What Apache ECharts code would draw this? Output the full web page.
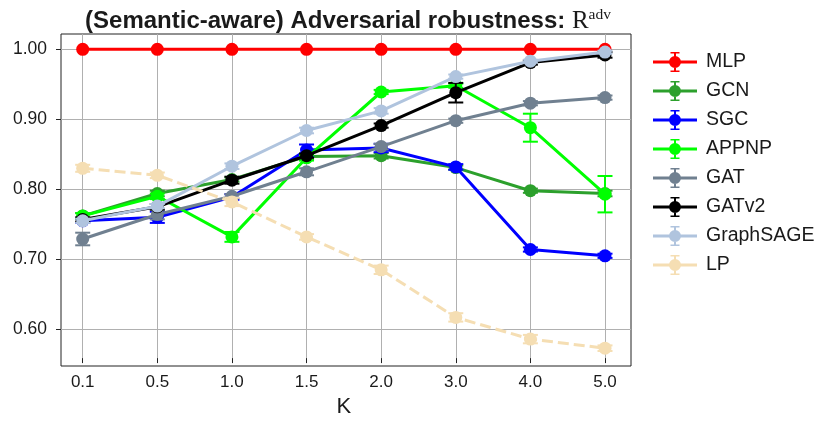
<!DOCTYPE html>
<html>
<head>
<meta charset="utf-8">
<script src="https://cdn.jsdelivr.net/npm/echarts@6/dist/echarts.min.js"></script>
<style>html,body{margin:0;padding:0;background:#fff;}#c{width:820px;height:423px;}</style>
</head>
<body>
<div id="c"></div>
<script>
// ---- data ----
const categories = ['0.1', '0.5', '1.0', '1.5', '2.0', '3.0', '4.0', '5.0'];
const seriesNames = ['MLP', 'GCN', 'SGC', 'APPNP', 'GAT', 'GATv2', 'GraphSAGE', 'LP'];
const MLP       = [1.000, 1.000, 1.000, 1.000, 1.000, 1.000, 1.000, 1.000];
const GCN       = [0.762, 0.794, 0.814, 0.847, 0.848, 0.831, 0.798, 0.794];
const SGC       = [0.755, 0.760, 0.789, 0.856, 0.859, 0.832, 0.714, 0.705];
const APPNP     = [0.762, 0.790, 0.732, 0.845, 0.939, 0.948, 0.888, 0.793];
const GAT       = [0.729, 0.764, 0.790, 0.825, 0.861, 0.898, 0.923, 0.931];
const GATv2     = [0.757, 0.775, 0.813, 0.848, 0.891, 0.938, 0.981, 0.992];
const GraphSAGE = [0.755, 0.776, 0.833, 0.884, 0.912, 0.961, 0.983, 0.996];
const LP        = [0.830, 0.820, 0.782, 0.732, 0.685, 0.617, 0.586, 0.573];
// standard errors (error bar half-lengths)
const MLP_err       = [0, 0, 0, 0, 0, 0, 0, 0];
const GCN_err       = [0.004, 0.004, 0.003, 0.004, 0.004, 0.003, 0.003, 0.004];
const SGC_err       = [0.003, 0.008, 0.004, 0.008, 0.006, 0.004, 0.003, 0.003];
const APPNP_err     = [0.004, 0.004, 0.007, 0.004, 0.003, 0.003, 0.020, 0.026];
const GAT_err       = [0.009, 0.007, 0.003, 0.005, 0.004, 0.003, 0.003, 0.003];
const GATv2_err     = [0.003, 0.004, 0.005, 0.003, 0.003, 0.014, 0.003, 0.004];
const GraphSAGE_err = [0.003, 0.003, 0.004, 0.004, 0.004, 0.003, 0.002, 0.002];
const LP_err        = [0.005, 0.004, 0.006, 0.004, 0.006, 0.006, 0.006, 0.004];
const yTicks = [0.6, 0.7, 0.8, 0.9, 1.0];

const values = [MLP, GCN, SGC, APPNP, GAT, GATv2, GraphSAGE, LP];
const errors = [MLP_err, GCN_err, SGC_err, APPNP_err, GAT_err, GATv2_err, GraphSAGE_err, LP_err];

// ---- styles / layout ----
const colors = ['#ff0000', '#2ca02c', '#0000ff', '#00ff00', '#708090', '#000000', '#b0c4de', '#f5deb3'];
const FONT = 'Liberation Sans, Arial, Helvetica, sans-serif';
const SERIF = 'Liberation Serif, DejaVu Serif, serif';
const TXT = '#1a1a1a';
// pixel layout of the plotting frame
const PL = 61, PR = 631, PT = 34, PB = 366;
const X0 = 82.7, X7 = 605;           // pixel of first / last category
const Y1 = 49.3, Y06 = 329.3;        // pixel of 1.0 / 0.6

const chart = echarts.init(document.getElementById('c'), null, {renderer: 'canvas'});

const iconPath = 'path://M0,8.5L44,8.5L44,11.5L0,11.5Z' +
  'M16,10A6,6 0 1,1 28,10A6,6 0 1,1 16,10Z' +
  'M21,0L23,0L23,20L21,20Z' +
  'M17.5,0L26.5,0L26.5,1.6L17.5,1.6Z' +
  'M17.5,18.4L26.5,18.4L26.5,20L17.5,20Z';

const yMin = yTicks[0], yMax = yTicks[yTicks.length - 1];

const series = [];
seriesNames.forEach((name, i) => {
  const col = colors[i];
  const isLP = name === 'LP';
  series.push({
    name: name + ' err',
    type: 'custom',
    xAxisIndex: 3, yAxisIndex: 3,
    z: 10 + i * 2,
    silent: true,
    clip: false,
    data: values[i].map((v, k) => [k, v, errors[i][k]]),
    renderItem: function (params, api) {
      const x = api.value(0), y = api.value(1), e = api.value(2);
      if (!e) return null;
      const t = api.coord([x, y + e]);
      const b = api.coord([x, y - e]);
      const cw = 7.5;
      const st = {stroke: col, lineWidth: 2};
      return {type: 'group', children: [
        {type: 'line', shape: {x1: t[0], y1: t[1], x2: b[0], y2: b[1]}, style: st},
        {type: 'line', shape: {x1: t[0] - cw, y1: t[1], x2: t[0] + cw, y2: t[1]}, style: st},
        {type: 'line', shape: {x1: b[0] - cw, y1: b[1], x2: b[0] + cw, y2: b[1]}, style: st}
      ]};
    }
  });
  series.push({
    name: name,
    type: 'line',
    xAxisIndex: 3, yAxisIndex: 3,
    z: 11 + i * 2,
    clip: false,
    color: col,
    data: values[i].map((v, k) => [k, v]),
    symbol: 'circle',
    symbolSize: 13,
    showSymbol: true,
    animation: false,
    lineStyle: {color: col, width: 3, type: isLP ? [11, 5] : 'solid'},
    itemStyle: {color: col, borderWidth: 0},
    emphasis: {disabled: true}
  });
});

const option = {
  animation: false,
  backgroundColor: '#fff',
  title: {
    left: 348, top: 6, textAlign: 'center', padding: 0,
    text: '{a|(Semantic-aware) Adversarial robustness: }{r|R}{s|adv}',
    textStyle: {
      rich: {
        a: {fontFamily: FONT, fontWeight: 'bold', fontSize: 24, color: TXT, lineHeight: 30},
        r: {fontFamily: SERIF, fontWeight: 'normal', fontSize: 25, color: TXT, lineHeight: 30},
        s: {fontFamily: SERIF, fontWeight: 'normal', fontSize: 15.5, color: TXT, lineHeight: 30, padding: [0, 0, 12, 0]}
      }
    }
  },
  legend: {
    orient: 'vertical',
    left: 648, top: 47,
    itemWidth: 44, itemHeight: 20, itemGap: 9,
    data: seriesNames.map(n => ({name: n, icon: iconPath})),
    textStyle: {fontFamily: FONT, fontSize: 19.5, color: TXT, padding: [0, 0, 0, 4]},
    selectedMode: false
  },
  grid: [
    {left: PL, top: PT, width: PR - PL, height: PB - PT, show: true, borderColor: '#222', borderWidth: 1, backgroundColor: 'transparent', containLabel: false},
    {left: X0, top: PT, width: X7 - X0, height: PB - PT, containLabel: false},
    {left: PL, top: Y1, width: PR - PL, height: Y06 - Y1, containLabel: false},
    {left: X0, top: Y1, width: X7 - X0, height: Y06 - Y1, containLabel: false}
  ],
  xAxis: [
    {gridIndex: 0, type: 'value', min: 0, max: 1, show: false},
    {gridIndex: 1, type: 'value', min: 0, max: categories.length - 1, interval: 1, position: 'bottom',
      axisLine: {show: false},
      axisTick: {show: true, inside: false, length: 5, lineStyle: {color: '#222', width: 1}},
      axisLabel: {fontFamily: FONT, fontSize: 17, color: TXT, margin: 16, formatter: v => categories[Math.round(v)] || ''},
      splitLine: {show: true, lineStyle: {color: '#b0b0b0', width: 1}},
      name: 'K', nameLocation: 'middle', nameGap: 37,
      nameTextStyle: {fontFamily: FONT, fontSize: 22, color: TXT}
    },
    {gridIndex: 2, type: 'value', min: 0, max: 1, show: false},
    {gridIndex: 3, type: 'value', min: 0, max: categories.length - 1, interval: 1, show: false}
  ],
  yAxis: [
    {gridIndex: 0, type: 'value', min: 0, max: 1, show: false},
    {gridIndex: 1, type: 'value', min: 0, max: 1, show: false},
    {gridIndex: 2, type: 'value', min: yMin, max: yMax, interval: 0.1, position: 'left',
      axisLine: {show: false},
      axisTick: {show: true, inside: false, length: 5, lineStyle: {color: '#222', width: 1}},
      axisLabel: {fontFamily: FONT, fontSize: 17.5, color: TXT, margin: 14, formatter: v => v.toFixed(2)},
      splitLine: {show: true, lineStyle: {color: '#b0b0b0', width: 1}}
    },
    {gridIndex: 3, type: 'value', min: yMin, max: yMax, interval: 0.1, show: false}
  ],
  series: series
};
chart.setOption(option);
</script>
</body>
</html>
